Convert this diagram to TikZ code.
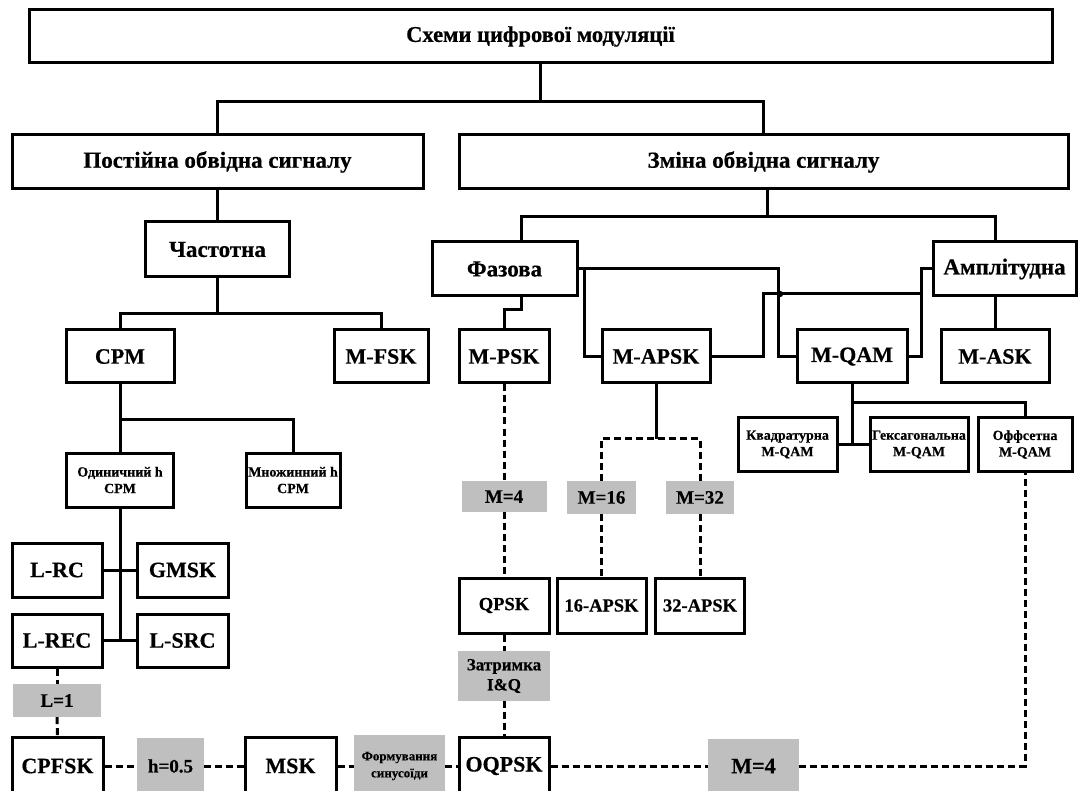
\documentclass[tikz,border=0pt]{standalone}
\usepackage{fontspec}
\setmainfont{Liberation Serif}[BoldFeatures={FakeBold=0.5}]
\begin{document}
\begin{tikzpicture}[x=1pt, y=-1pt,
  box/.style={draw, line width=3pt, fill=white, inner sep=0pt, align=center, font=\bfseries\fontsize{22}{24}\selectfont},
  tag/.style={fill=gray!50, inner sep=0pt, align=center, font=\bfseries\fontsize{19}{21}\selectfont},
  small/.style={font=\bfseries\fontsize{14}{16.5}\selectfont},
  big/.style={font=\bfseries\fontsize{23}{25}\selectfont},
  wh/.style 2 args={minimum width=#1pt, minimum height=#2pt},
  wire/.style={line width=3pt},
  dwire/.style={line width=3pt, dash pattern=on 7pt off 4pt}]
\path[use as bounding box] (0,0) rectangle (1079,791);
\clip (0,0) rectangle (1079,791);
\fill[white] (0,0) rectangle (1079,791);
% levels 1-3
\node[box, wh={1023}{53}, font=\bfseries\fontsize{22.5}{24}\selectfont] (top) at (540.5,36.5) {Схеми цифрової модуляції};
\node[box, big, wh={411}{54}] (post) at (217.5,162) {Постійна обвідна сигналу};
\node[box, big, wh={609}{54}] (zmina) at (763.5,162) {Зміна обвідна сигналу};
\node[box, big, wh={144}{55}] (chast) at (217.5,249.5) {Частотна};
\node[box, big, wh={145}{54}] (faz) at (504.5,269) {Фазова};
\node[box, big, wh={143}{54}] (ampl) at (1004.5,269) {Амплітудна};
% left branch
\node[box, wh={108}{53}] (cpm) at (120,356.5) {CPM};
\node[box, wh={94}{53}] (mfsk) at (381,356.5) {M-FSK};
\node[box, small, wh={107}{54}] (odyn) at (120,480) {Одиничний h\\CPM};
\node[box, small, wh={94}{54}] (mnoz) at (293,480) {Множинний h\\CPM};
\node[box, wh={90}{54}] (lrc) at (57,570) {L-RC};
\node[box, wh={91}{54}] (gmsk) at (182.5,570) {GMSK};
\node[box, wh={90}{53}] (lrec) at (57,640.5) {L-REC};
\node[box, wh={91}{53}] (lsrc) at (182.5,640.5) {L-SRC};
\node[tag, wh={88}{33}] (l1) at (57,700.5) {L=1};
% bottom row
\node[box, wh={91}{58}] (cpfsk) at (57.5,766) {CPFSK};
\node[tag, wh={67}{56}] (h05) at (170.5,766) {h=0.5};
\node[box, wh={91}{58}] (msk) at (290.5,766) {MSK};
\node[tag, wh={91}{62}, font=\bfseries\fontsize{13}{17}\selectfont] (form) at (399.5,766) {Формування\\синусоїди};
\node[box, wh={90}{58}] (oqpsk) at (504,766) {OQPSK};
\node[tag, wh={91}{54}, font=\bfseries\fontsize{22}{24}\selectfont] (m4b) at (753.5,766) {M=4};
% right branch
\node[box, wh={90}{53}] (mpsk) at (504,356.5) {M-PSK};
\node[box, wh={108}{53}] (mapsk) at (656,356.5) {M-APSK};
\node[box, wh={110}{53}] (mqam) at (852,356.5) {M-QAM};
\node[box, wh={108}{53}] (mask) at (995,356.5) {M-ASK};
\node[box, small, wh={99}{53}] (kvad) at (787.5,444.5) {Квадратурна\\M-QAM};
\node[box, small, wh={98}{53}] (heks) at (919,444.5) {Гексагональна\\M-QAM};
\node[box, small, wh={94}{53}] (offs) at (1025,444.5) {Оффсетна\\M-QAM};
\node[tag, wh={85}{31}] (m4) at (504,496.5) {M=4};
\node[tag, wh={69}{33}] (m16) at (601.5,497.5) {M=16};
\node[tag, wh={68}{33}] (m32) at (700,497.5) {M=32};
\node[box, wh={90}{55}, font=\bfseries\fontsize{18.5}{20}\selectfont] (qpsk) at (504,605.5) {QPSK};
\node[box, wh={89}{55}, font=\bfseries\fontsize{18.5}{20}\selectfont] (apsk16) at (601.5,605.5) {16-APSK};
\node[box, wh={89}{55}, font=\bfseries\fontsize{18.5}{20}\selectfont] (apsk32) at (700,605.5) {32-APSK};
\node[tag, wh={92}{50}, font=\bfseries\fontsize{17}{20}\selectfont] (zatr) at (504,676) {Затримка\\I\&Q};
% connectors
\draw[wire] (top.south) -- ++(0,37) coordinate (t1);
\draw[wire] (post.north) |- (t1) -| (zmina.north);
\draw[wire] (post.south) -- (chast.north);
\draw[wire] (chast.south) -- ++(0,35) coordinate (c1);
\draw[wire] (cpm.north) |- (c1) -| (mfsk.north);
\draw[wire] (cpm.south) -- ++(0,35) coordinate (c2);
\draw[wire] (odyn.north) |- (c2) -| (mnoz.north);
\draw[wire] (odyn.south) -- (odyn.south |- lrec.east);
\draw[wire] (lrc.east) -- (gmsk.west);
\draw[wire] (lrec.east) -- (lsrc.west);
\draw[dwire] (lrec.south) -- (l1.north);
\draw[dwire] (l1.south) -- (cpfsk.north);
\draw[dwire] (cpfsk.east) -- (h05.west);
\draw[dwire] (h05.east) -- (msk.west);
\draw[dwire] (msk.east) -- (form.west);
\draw[dwire] (form.east) -- (oqpsk.west);
\draw[dwire] (oqpsk.east) -- (m4b.west);
\draw[dwire] (m4b.east) -| (offs.south);
\draw[wire] ([xshift=3.5pt]zmina.south) -- ++(0,26) coordinate (z1);
\draw[wire] ([xshift=16.5pt]faz.north) |- (z1) -| ([xshift=-9.5pt]ampl.north);
\draw[wire] ([xshift=16.5pt]faz.south) -- ++(0,12) -| (mpsk.north);
\draw[wire] ([xshift=-9.5pt]ampl.south) -- (mask.north);
\coordinate (fr) at ([xshift=6pt]faz.east);
\coordinate (ar) at ([xshift=-10pt]ampl.west);
\coordinate (dot) at (780,294);
\draw[wire] (faz.east) -- (fr) |- (mapsk.west);
\draw[wire] (fr) -| ([xshift=-17pt]mqam.west) -- (mqam.west);
\draw[wire] (ampl.west) -- (ar) |- (mqam.east);
\draw[wire] (mapsk.east) -- ++(52,0) |- (ar |- dot);
\fill (dot) circle (3.2pt);
\draw[wire] (mqam.south) -- (mqam.south |- kvad.east);
\draw[wire] (kvad.east) -- (heks.west);
\draw[wire] ([yshift=-18pt]mqam.south) -| (offs.north);
\draw[dwire] (mpsk.south) -- (m4.north);
\draw[dwire] (m4.south) -- (qpsk.north);
\draw[dwire] (qpsk.south) -- (zatr.north);
\draw[dwire] (zatr.south) -- (oqpsk.north);
\draw[wire] (mapsk.south) -- ++(0,54) coordinate (a1);
\draw[dwire] (m16.north) |- (a1) -| (m32.north);
\draw[dwire] (m16.south) -- (apsk16.north);
\draw[dwire] (m32.south) -- (apsk32.north);
\end{tikzpicture}
\end{document}
